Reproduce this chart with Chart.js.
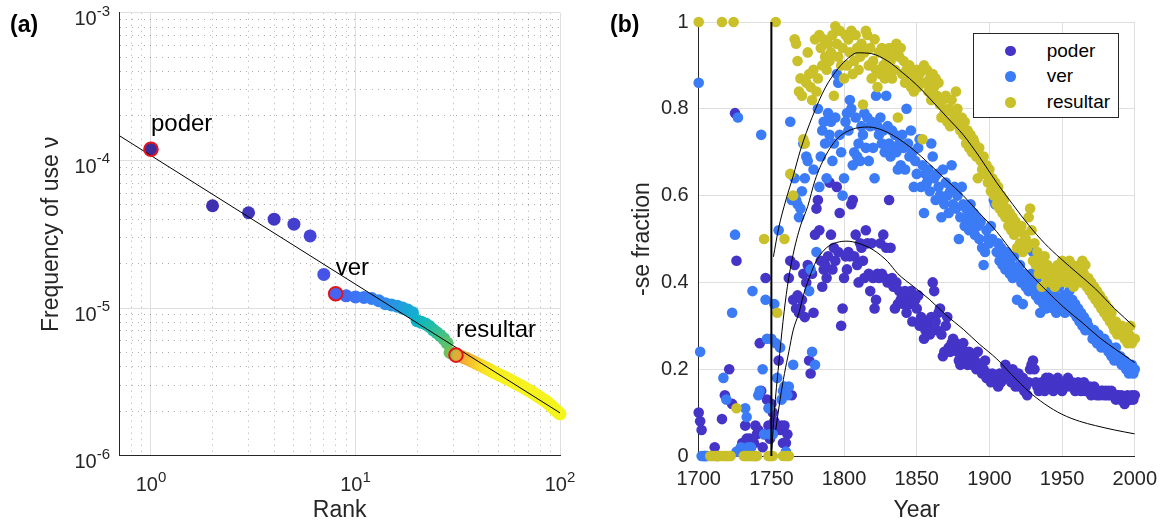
<!DOCTYPE html>
<html>
<head>
<meta charset="utf-8">
<title>Rank frequency and -se fraction</title>
<script src="https://cdn.jsdelivr.net/npm/chart.js@4.4.1/dist/chart.umd.min.js"></script>
<style>
  body { margin: 0; background: #fff; }
  #wrap { position: relative; width: 1168px; height: 526px; overflow: hidden; font-family: "Liberation Sans", Arial, Helvetica, sans-serif; }
  canvas { position: absolute; top: 0; }
  #chartA { left: 0; }
  #chartB { left: 584px; }
  .panel { position: absolute; top: 11px; font-size: 23px; font-weight: bold; line-height: 26px; color: #000; }
  #legend { position: absolute; left: 973px; top: 33px; width: 146px; height: 85px; box-sizing: border-box; border: 1px solid #262626; background: #fff; }
  .item { position: absolute; left: 0; height: 24px; line-height: 24px; font-size: 19px; color: #000; }
  .item i { position: absolute; left: 31px; top: 7px; width: 10.6px; height: 10.6px; border-radius: 50%; }
  .item span { position: absolute; left: 72.7px; white-space: nowrap; }
</style>
</head>
<body>
<div id="wrap">
  <canvas id="chartA" width="584" height="526"></canvas>
  <canvas id="chartB" width="584" height="526"></canvas>
  <div class="panel" style="left:10px">(a)</div>
  <div class="panel" style="left:610px">(b)</div>
  <div id="legend"></div>
</div>
<script>
/* ===== (a) rank / frequency ===== */
const ranks = Array.from({ length: 100 }, (_, i) => i + 1);
const freq = [
  1.19e-4, 4.93e-5, 4.42e-5, 4.0e-5, 3.7e-5, 3.08e-5, 1.69e-5, 1.25e-5, 1.21e-5, 1.19e-5,
  1.18e-5, 1.16e-5, 1.12e-5, 1.07e-5, 1.05e-5, 1.03e-5, 1.0e-5, 9.7e-6, 9.3e-6, 8.2e-6,
  8.0e-6, 7.8e-6, 7.5e-6, 7.1e-6, 6.8e-6, 6.5e-6, 6.2e-6, 5.8e-6, 5.0e-6, 4.9e-6,
  4.8e-6, 4.75e-6, 4.7e-6, 4.6e-6, 4.55e-6, 4.45e-6, 4.38e-6, 4.3e-6, 4.22e-6, 4.15e-6,
  4.08e-6, 4.02e-6, 3.95e-6, 3.9e-6, 3.83e-6, 3.77e-6, 3.7e-6, 3.65e-6, 3.6e-6, 3.55e-6,
  3.5e-6, 3.46e-6, 3.42e-6, 3.38e-6, 3.33e-6, 3.29e-6, 3.25e-6, 3.21e-6, 3.16e-6, 3.12e-6,
  3.09e-6, 3.05e-6, 3.02e-6, 2.98e-6, 2.95e-6, 2.91e-6, 2.88e-6, 2.85e-6, 2.81e-6, 2.78e-6,
  2.75e-6, 2.72e-6, 2.69e-6, 2.65e-6, 2.62e-6, 2.59e-6, 2.56e-6, 2.53e-6, 2.5e-6, 2.47e-6,
  2.44e-6, 2.42e-6, 2.39e-6, 2.36e-6, 2.34e-6, 2.31e-6, 2.28e-6, 2.25e-6, 2.22e-6, 2.19e-6,
  2.16e-6, 2.13e-6, 2.10e-6, 2.07e-6, 2.04e-6, 2.02e-6, 1.99e-6, 1.96e-6, 1.94e-6, 1.92e-6
];
const fitRanks = [0.7, 100];
const fitFreq = [1.47e-4, 1.95e-6];
const highlightRanks = [1, 8, 31];
const highlightWords = ['poder', 'ver', 'resultar'];

const rankMajor = [1, 10, 100];
const rankMinor = [0.8, 0.9, 2, 3, 4, 5, 6, 7, 8, 9, 20, 30, 40, 50, 60, 70, 80, 90];
const freqMajor = [1e-6, 1e-5, 1e-4, 1e-3];
const freqMinor = [2e-6, 3e-6, 4e-6, 5e-6, 6e-6, 7e-6, 8e-6, 9e-6,
  2e-5, 3e-5, 4e-5, 5e-5, 6e-5, 7e-5, 8e-5, 9e-5,
  2e-4, 3e-4, 4e-4, 5e-4, 6e-4, 7e-4, 8e-4, 9e-4];

/* ===== (b) -se fraction by year ===== */
const years = Array.from({ length: 301 }, (_, i) => 1700 + i);
const poderFrac = [
  0.10, 0.08, 0.06, null, 0.00, null, null, null, null, null,
  null, 0.02, null, 0.00, null, null, 0.085, null, 0.14, null,
  null, 0.20, null, 0.12, null, 0.79, 0.45, null, null, null,
  0.03, null, 0.07, 0.04, 0.03, 0.04, 0.02, 0.03, 0.03, 0.07,
  0.05, 0.06, 0.26, 0.15, 0.02, 0.05, 0.41, 0.13, 0.07, 0.04,
  0.12, 0.10, 0.08, 0.07, 0.07, 0.22, 0.06, 0.07, 0.03, 0.07,
  0.03, 0.05, 0.41, 0.45, 0.14, 0.36, 0.44, 0.34, 0.37, 0.33,
  0.34, 0.36, 0.42, 0.32, 0.40, 0.44, 0.22, 0.19, 0.42, 0.33,
  0.51, 0.57, 0.59, 0.52, 0.45, 0.39, 0.43, 0.44, 0.41, 0.46,
  0.63, 0.51, 0.43, 0.48, 0.45, 0.62, 0.47, 0.56, 0.30, 0.34,
  0.41, 0.46, 0.43, 0.47, 0.46, 0.58, 0.59, 0.46, 0.51, 0.44,
  0.40, 0.49, 0.48, 0.45, 0.41, 0.52, 0.49, 0.42, 0.38, 0.49,
  0.41, 0.34, 0.36, 0.42, 0.41, 0.49, 0.42, 0.51, 0.41, 0.48,
  0.40, 0.59, 0.48, 0.41, 0.39, 0.34, 0.40, 0.35, 0.38, 0.36,
  0.37, 0.35, 0.38, 0.33, 0.36, 0.35, 0.38, 0.31, 0.35, 0.36,
  0.34, 0.37, 0.30, 0.32, 0.31, 0.27, 0.29, 0.31, 0.30, 0.28,
  0.32, 0.40, 0.38, 0.31, 0.29, 0.33, 0.34, 0.28, 0.23, 0.24,
  0.30, 0.32, 0.25, 0.24, 0.26, 0.27, 0.25, 0.26, 0.24, 0.22,
  0.21, 0.25, 0.26, 0.23, 0.22, 0.21, 0.24, 0.22, 0.21, 0.23,
  0.22, 0.20, 0.24, 0.21, 0.20, 0.19, 0.20, 0.22, 0.18, 0.19,
  0.18, 0.17, 0.19, 0.18, 0.17, 0.18, 0.16, 0.19, 0.17, 0.18,
  0.19, 0.21, 0.20, 0.18, 0.19, 0.17, 0.20, 0.18, 0.16, 0.17,
  0.19, 0.16, 0.17, 0.18, 0.15, 0.16, 0.14, 0.17, 0.20, 0.21,
  0.22, 0.20, 0.17, 0.16, 0.15, 0.16, 0.17, 0.16, 0.15, 0.18,
  0.17, 0.18, 0.17, 0.16, 0.15, 0.17, 0.16, 0.18, 0.17, 0.16,
  0.15, 0.16, 0.17, 0.16, 0.18, 0.17, 0.16, 0.17, 0.16, 0.15,
  0.16, 0.17, 0.16, 0.15, 0.16, 0.17, 0.15, 0.16, 0.15, 0.16,
  0.14, 0.15, 0.16, 0.15, 0.14, 0.15, 0.14, 0.15, 0.15, 0.14,
  0.15, 0.14, 0.15, 0.14, 0.15, 0.14, 0.14, 0.13, 0.14, 0.14,
  0.13, 0.14, 0.13, 0.12, 0.13, 0.14, 0.13, 0.13, 0.14, 0.13,
  0.14
];
const verFrac = [
  0.86, 0.24, 0.00, 0.00, 0.00, 0.00, 0.00, null, null, null,
  null, null, null, null, null, null, null, 0.18, null, 0.13,
  null, null, null, 0.33, null, 0.51, 0.01, 0.78, null, 0.02,
  null, null, 0.11, 0.09, 0.02, null, 0.02, 0.38, null, 0.00,
  null, 0.14, 0.15, 0.74, 0.20, 0.05, 0.36, 0.27, 0.11, 0.05,
  0.27, 0.05, 0.35, 0.26, 0.18, 0.52, 0.25, 0.13, 0.15, 0.16,
  0.01, 0.14, 0.16, 0.77, 0.59, 0.21, 0.64, 0.59, 0.58, 0.55,
  0.57, 0.61, 0.72, 0.64, 0.69, 0.68, 0.38, 0.43, 0.24, 0.66,
  0.21, 0.47, 0.80, 0.62, 0.69, 0.75, 0.77, 0.72, 0.64, 0.79,
  0.74, 0.77, 0.68, 0.72, 0.78, 0.88, 0.86, 0.74, 0.70, 0.60,
  0.64, 0.77, 0.79, 0.75, 0.82, 0.80, 0.67, 0.70, 0.78, 0.69,
  0.72, 0.68, 0.76, 0.74, 0.79, 0.71, 0.78, 0.68, 0.76, 0.77,
  0.71, 0.64, 0.83, 0.76, 0.74, 0.78, 0.72, 0.75, 0.70, 0.83,
  0.76, 0.72, 0.69, 0.75, 0.71, 0.74, 0.70, 0.66, 0.72, 0.67,
  0.74, 0.71, 0.66, 0.80, 0.72, 0.69, 0.75, 0.70, 0.62, 0.68,
  0.65, 0.71, 0.73, 0.62, 0.67, 0.56, 0.65, 0.63, 0.66, 0.61,
  0.72, 0.69, 0.64, 0.59, 0.65, 0.62, 0.60, 0.55, 0.66, 0.58,
  0.63, 0.60, 0.56, 0.61, 0.67, 0.58, 0.62, 0.57, 0.60, 0.50,
  0.55, 0.62, 0.58, 0.53, 0.57, 0.55, 0.52, 0.58, 0.54, 0.56,
  0.51, 0.55, 0.53, 0.50, 0.54, 0.48, 0.44, 0.47, 0.52, 0.50,
  0.49, 0.53, 0.50, 0.59, 0.58, 0.47, 0.49, 0.45, 0.48, 0.44,
  0.46, 0.43, 0.47, 0.45, 0.42, 0.44, 0.41, 0.46, 0.43, 0.36,
  0.42, 0.44, 0.40, 0.35, 0.42, 0.39, 0.41, 0.38, 0.40, 0.42,
  0.47, 0.39, 0.37, 0.41, 0.36, 0.33, 0.38, 0.35, 0.39, 0.34,
  0.37, 0.40, 0.35, 0.38, 0.34, 0.37, 0.33, 0.36, 0.39, 0.35,
  0.34, 0.37, 0.33, 0.36, 0.35, 0.38, 0.34, 0.36, 0.33, 0.35,
  0.32, 0.34, 0.31, 0.33, 0.30, 0.32, 0.29, 0.31, 0.30, 0.29,
  0.29, 0.27, 0.29, 0.28, 0.26, 0.28, 0.27, 0.25, 0.26, 0.27,
  0.25, 0.26, 0.24, 0.25, 0.23, 0.24, 0.22, 0.25, 0.23, 0.22,
  0.23, 0.21, 0.22, 0.22, 0.20, 0.21, 0.19, 0.20, 0.21, 0.19,
  0.20
];
const resultarFrac = [
  1.00, null, null, null, null, null, null, null, 0.00, 0.00,
  0.00, 0.00, 0.00, 0.00, 0.00, 0.00, 1.00, 0.00, 0.00, 0.00,
  0.00, 0.00, 0.00, null, 1.00, null, 0.11, null, null, null,
  null, 0.00, 0.00, 0.00, 0.00, 0.00, 0.00, 0.00, 0.00, 0.00,
  0.00, null, null, null, null, 0.50, null, null, 0.00, 0.00,
  0.00, 0.00, null, 1.00, 0.33, null, null, null, 0.00, 0.50,
  0.00, 0.00, 0.00, 0.65, null, 0.60, 0.96, 0.95, 0.91, 0.84,
  0.87, 0.83, 0.73, 0.72, 0.86, 0.93, 0.88, 0.85, 0.82, 0.89,
  0.96, 0.84, 0.87, 0.97, 0.94, 0.90, 0.96, 0.92, 0.89, 0.95,
  0.91, 0.93, 0.97, 0.83, 0.99, 0.95, 0.92, 0.98, 0.90, 0.94,
  0.87, 0.97, 0.90, 0.96, 0.93, 0.98, 0.88, 0.91, 0.97, 0.94,
  0.89, 0.92, 0.95, 0.81, 0.93, 0.98, 0.97, 0.90, 0.94, 0.87,
  0.91, 0.96, 0.89, 0.85, 0.93, 0.88, 0.94, 0.90, 0.87, 0.92,
  0.89, 0.94, 0.91, 0.87, 0.93, 0.89, 0.95, 0.78, 0.92, 0.94,
  0.88, 0.91, 0.86, 0.89, 0.87, 0.90, 0.85, 0.88, 0.84, 0.87,
  0.89, 0.85, 0.88, 0.86, 0.73, 0.90, 0.86, 0.89, 0.84, 0.87,
  0.82, 0.88, 0.85, 0.87, 0.83, 0.86, 0.81, 0.78, 0.82, 0.79,
  0.83, 0.77, 0.80, 0.76, 0.82, 0.79, 0.77, 0.84, 0.80, 0.76,
  0.75, 0.78, 0.74, 0.77, 0.72, 0.75, 0.71, 0.74, 0.70, 0.73,
  0.72, 0.69, 0.64, 0.71, 0.68, 0.66, 0.69, 0.65, 0.67, 0.63,
  0.66, 0.61, 0.64, 0.60, 0.63, 0.58, 0.62, 0.57, 0.60, 0.56,
  0.59, 0.55, 0.57, 0.53, 0.56, 0.52, 0.55, 0.51, 0.54, 0.48,
  0.52, 0.49, 0.53, 0.47, 0.51, 0.50, 0.48, 0.55, 0.57, 0.52,
  0.45, 0.49, 0.44, 0.47, 0.42, 0.45, 0.39, 0.43, 0.46, 0.41,
  0.44, 0.42, 0.40, 0.43, 0.41, 0.39, 0.42, 0.44, 0.40, 0.43,
  0.45, 0.42, 0.44, 0.40, 0.43, 0.45, 0.41, 0.44, 0.39, 0.42,
  0.43, 0.41, 0.44, 0.40, 0.45, 0.42, 0.44, 0.39, 0.41, 0.38,
  0.40, 0.37, 0.39, 0.36, 0.38, 0.35, 0.37, 0.34, 0.36, 0.33,
  0.35, 0.32, 0.34, 0.31, 0.33, 0.30, 0.29, 0.31, 0.28, 0.30,
  0.29, 0.30, 0.28, 0.27, 0.29, 0.26, 0.28, 0.30, 0.26, 0.27,
  0.27
];

// fitted curves
const poderFitYears = [1753, 1756, 1759, 1762, 1765, 1769, 1772, 1776, 1781, 1788, 1795, 1802, 1810, 1820, 1830, 1837, 1848, 1859, 1870, 1882, 1893, 1905, 1916, 1927, 1938, 1950, 1962, 1973, 1986, 2000];
const poderFit = [0.06, 0.13, 0.19, 0.24, 0.29, 0.33, 0.37, 0.41, 0.45, 0.48, 0.492, 0.495, 0.49, 0.475, 0.448, 0.42, 0.39, 0.36, 0.325, 0.292, 0.258, 0.224, 0.185, 0.149, 0.12, 0.096, 0.08, 0.07, 0.06, 0.051];
const verFitYears = [1750.3, 1752, 1755, 1758, 1761, 1765, 1770, 1775, 1780, 1787, 1795, 1805, 1817, 1827, 1837, 1848, 1859, 1870, 1882, 1893, 1905, 1918, 1928, 1939, 1951, 1964, 1976, 1988, 2000];
const verFit = [0.015, 0.10, 0.21, 0.31, 0.39, 0.465, 0.53, 0.575, 0.635, 0.69, 0.73, 0.752, 0.758, 0.75, 0.732, 0.705, 0.672, 0.637, 0.60, 0.56, 0.517, 0.46, 0.42, 0.382, 0.343, 0.307, 0.272, 0.243, 0.215];
const resultarFitYears = [1751.4, 1755, 1760, 1765, 1770, 1778, 1787, 1796, 1803, 1809, 1819, 1830, 1840, 1850, 1860, 1871, 1882, 1893, 1905, 1916, 1927, 1938, 1949, 1961, 1973, 1986, 2000];
const resultarFit = [0.459, 0.525, 0.59, 0.645, 0.705, 0.78, 0.848, 0.893, 0.917, 0.929, 0.927, 0.91, 0.884, 0.855, 0.82, 0.78, 0.74, 0.69, 0.63, 0.58, 0.532, 0.49, 0.455, 0.42, 0.385, 0.34, 0.297];
const markerYear = 1750;

const yearTicks = [1700, 1750, 1800, 1850, 1900, 1950, 2000];
const fracTicks = [0, 0.2, 0.4, 0.6, 0.8, 1];

const seriesNames = ['poder', 'ver', 'resultar'];
const seriesColors = ['#4434c8', '#3b7bf5', '#c9c02a'];

/* ===== helpers ===== */
const FONT = '"Liberation Sans", Arial, Helvetica, sans-serif';
const INK = '#262626';
const GRID = '#dfdfdf';
const MINOR = 'rgba(38,38,38,0.38)';

const rankStops = [
  [1, '#3b2c9a'], [2, '#3e30ae'], [4, '#4139c6'], [6, '#4444d8'], [7, '#4652e8'], [8, '#4663f1'],
  [10, '#3e73f5'], [13, '#3485ef'], [16, '#2797e2'], [19, '#16abd3'], [21, '#0db6c2'], [24, '#22bda6'],
  [27, '#46c182'], [29, '#6cc25a'], [31, '#98bf3a'], [32, '#dcae3a'], [35, '#f0a935'], [38, '#f6bd2e'],
  [43, '#f8dc26'], [50, '#f8f121'], [100, '#f4f51d']
];
function hex(c) { return [1, 3, 5].map(i => parseInt(c.slice(i, i + 2), 16)); }
function rankColor(r) {
  for (let i = 1; i < rankStops.length; i++) {
    const [r0, c0] = rankStops[i - 1], [r1, c1] = rankStops[i];
    if (r <= r1) {
      const t = (r - r0) / (r1 - r0), a = hex(c0), b = hex(c1);
      return 'rgb(' + a.map((v, k) => Math.round(v + (b[k] - v) * t)).join(',') + ')';
    }
  }
  return rankStops[rankStops.length - 1][1];
}
const pts = (xs, ys) => xs.map((x, i) => ({ x, y: ys[i] })).filter(p => p.y !== null);
const tickList = arr => arr.slice().sort((a, b) => a - b).map(v => ({ value: v }));
const isMajor = (ctx, list) => !ctx.tick || list.includes(ctx.tick.value);

/* powers of ten as "10" + raised exponent, plus the word labels */
const logLabels = {
  id: 'logLabels',
  afterDraw(chart) {
    const { ctx, scales: { x, y } } = chart;
    ctx.save();
    ctx.fillStyle = INK;
    ctx.textAlign = 'left';
    ctx.textBaseline = 'alphabetic';
    const parts = v => {
      const e = String(Math.round(Math.log10(v)));
      ctx.font = '20px ' + FONT; const wb = ctx.measureText('10').width;
      ctx.font = '15px ' + FONT; const we = ctx.measureText(e).width;
      return { e, wb, we };
    };
    const put = (left, base, p) => {
      ctx.font = '20px ' + FONT; ctx.fillText('10', left, base);
      ctx.font = '15px ' + FONT; ctx.fillText(p.e, left + p.wb, base - 9.5);
    };
    rankMajor.forEach(v => {
      const p = parts(v);
      put(x.getPixelForValue(v) - (p.wb + p.we) / 2, x.top + 35.3, p);
    });
    freqMajor.forEach(v => {
      const p = parts(v);
      put(y.right - 9.3 - p.we - p.wb, y.getPixelForValue(v) + 12.5, p);
    });
    ctx.fillStyle = '#000';
    ctx.font = '24px ' + FONT;
    highlightRanks.forEach((r, i) => {
      ctx.fillText(highlightWords[i], x.getPixelForValue(r), y.getPixelForValue(freq[r - 1]) - 18.5);
    });
    ctx.restore();
  }
};

/* ===== chart (a) ===== */
new Chart(document.getElementById('chartA'), {
  type: 'scatter',
  data: {
    datasets: [
      {
        data: highlightRanks.map(r => ({ x: r, y: freq[r - 1] })),
        pointRadius: 6.8, pointBorderWidth: 2, pointBorderColor: '#e3151c',
        pointBackgroundColor: 'rgba(0,0,0,0)', order: 0, clip: false
      },
      {
        data: pts(fitRanks, fitFreq), showLine: true, pointRadius: 0,
        borderColor: '#000', borderWidth: 1, order: 1
      },
      {
        data: pts(ranks, freq), pointRadius: 6.5, pointBorderWidth: 0,
        pointBackgroundColor: c => rankColor(c.raw ? c.raw.x : 1), order: 2, clip: false
      }
    ]
  },
  options: {
    responsive: false, animation: false, devicePixelRatio: 1,
    layout: { padding: { top: 12.7, right: 24, left: 0, bottom: 0 } },
    plugins: { legend: { display: false }, tooltip: { enabled: false } },
    events: [],
    scales: {
      x: {
        type: 'logarithmic', position: 'bottom', min: 0.7, max: 100,
        afterBuildTicks: s => { s.ticks = tickList(rankMajor.concat(rankMinor)); },
        afterFit: s => { s.height = 70.3; },
        ticks: { display: false },
        grid: { drawTicks: false, color: c => isMajor(c, rankMajor) ? GRID : MINOR },
        border: { color: INK, width: 1, dash: c => isMajor(c, rankMajor) ? [] : [1, 5] },
        title: { display: true, text: 'Rank', color: INK, font: { family: FONT, size: 23 }, padding: { top: 0, bottom: 2 } }
      },
      y: {
        type: 'logarithmic', position: 'left', min: 1e-6, max: 1e-3,
        afterBuildTicks: s => { s.ticks = tickList(freqMajor.concat(freqMinor)); },
        afterFit: s => { s.width = 119.3; },
        ticks: { display: false },
        grid: { drawTicks: false, color: c => isMajor(c, freqMajor) ? GRID : MINOR },
        border: { color: INK, width: 1, dash: c => isMajor(c, freqMajor) ? [] : [1, 5] },
        title: { display: true, text: 'Frequency of use ν', color: INK, font: { family: FONT, size: 23 }, padding: { top: 38.2, bottom: 0 } }
      }
    }
  },
  plugins: [logLabels]
});

/* ===== chart (b) ===== */
const fracSeries = [poderFrac, verFrac, resultarFrac];
const fitSets = [[poderFitYears, poderFit], [verFitYears, verFit], [resultarFitYears, resultarFit]];

new Chart(document.getElementById('chartB'), {
  type: 'scatter',
  data: {
    datasets: [
      {
        data: [{ x: markerYear, y: fracTicks[0] }, { x: markerYear, y: fracTicks[fracTicks.length - 1] }],
        showLine: true, pointRadius: 0, borderColor: '#000', borderWidth: 2, order: 0
      },
      ...fitSets.map(([xs, ys]) => ({
        data: pts(xs, ys), showLine: true, pointRadius: 0, borderColor: '#000', borderWidth: 1,
        cubicInterpolationMode: 'monotone', order: 0
      })),
      ...fracSeries.map((vals, i) => ({
        label: seriesNames[i], data: pts(years, vals), pointRadius: 5.3, pointBorderWidth: 0,
        pointBackgroundColor: seriesColors[i], order: 3 - i, clip: false
      }))
    ]
  },
  options: {
    responsive: false, animation: false, devicePixelRatio: 1,
    layout: { padding: { top: 12.7, right: 27.7, left: 0, bottom: 0 } },
    plugins: { legend: { display: false }, tooltip: { enabled: false } },
    events: [],
    scales: {
      x: {
        type: 'linear', position: 'bottom', min: 1700, max: 2000,
        afterBuildTicks: s => { s.ticks = tickList(yearTicks); },
        afterFit: s => { s.height = 70; },
        ticks: { color: INK, font: { family: FONT, size: 20 }, padding: 11, maxRotation: 0, autoSkip: false, callback: v => String(v) },
        grid: { drawTicks: false, color: GRID },
        border: { color: INK, width: 1 },
        title: { display: true, text: 'Year', color: INK, font: { family: FONT, size: 23 }, padding: { top: 0, bottom: 2 } }
      },
      y: {
        type: 'linear', position: 'left', min: 0, max: 1,
        afterBuildTicks: s => { s.ticks = tickList(fracTicks); },
        afterFit: s => { s.width = 114.7; },
        ticks: { color: INK, font: { family: FONT, size: 20 }, padding: 10, callback: v => String(v) },
        grid: { drawTicks: false, color: GRID },
        border: { color: INK, width: 1 },
        title: { display: true, text: '-se fraction', color: INK, font: { family: FONT, size: 23 }, padding: { top: 45, bottom: 0 } }
      }
    }
  }
});

/* legend box */
const legend = document.getElementById('legend');
seriesNames.forEach((name, i) => {
  const row = document.createElement('div');
  row.className = 'item';
  row.style.top = (4.7 + i * 25.7) + 'px';
  row.innerHTML = `<i style="background:${seriesColors[i]}"></i><span>${name}</span>`;
  row.style.width = '100%';
  legend.appendChild(row);
});
</script>
</body>
</html>
